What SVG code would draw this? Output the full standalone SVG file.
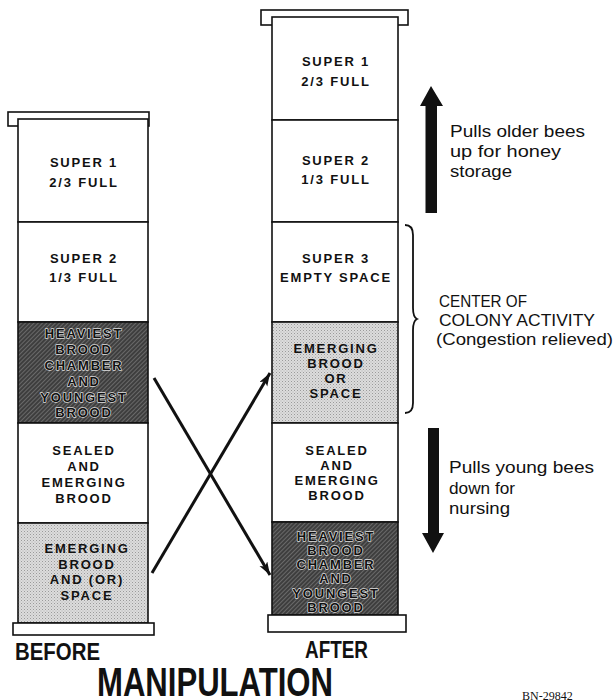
<svg xmlns="http://www.w3.org/2000/svg" width="614" height="700" viewBox="0 0 614 700">
<defs>
<style>
.box{fill:#fff;stroke:#111;stroke-width:1.6}
.dark{fill:url(#hatch);stroke:#111;stroke-width:1.6}
.light{fill:url(#stipple);stroke:#111;stroke-width:1.6}
.lbl{font-family:"Liberation Sans",Arial,sans-serif;font-weight:bold;font-size:13px;letter-spacing:1.8px;text-anchor:middle;fill:#111}
.halo{stroke:#ddd;stroke-width:1.4px;paint-order:stroke;stroke-linejoin:round}
.side{font-family:"Liberation Sans",Arial,sans-serif;font-size:17px;fill:#111}
.cap{font-family:"Liberation Sans",Arial,sans-serif;font-weight:bold;fill:#111}
.conn{stroke:#111;stroke-width:3;fill:none}
</style>
<pattern id="hatch" patternUnits="userSpaceOnUse" width="3" height="3" patternTransform="rotate(45)">
<rect width="3" height="3" fill="#3e3e3e"/>
<line x1="0" y1="0" x2="0" y2="3" stroke="#8c8c8c" stroke-width="1.1"/>
</pattern>
<pattern id="stipple" patternUnits="userSpaceOnUse" width="3" height="3">
<rect width="3" height="3" fill="#dcdcdc"/>
<rect x="0" y="0" width="1" height="1" fill="#9a9a9a"/>
<rect x="1.5" y="1.5" width="1" height="1" fill="#b0b0b0"/>
</pattern>
<marker id="ah" markerUnits="userSpaceOnUse" markerWidth="14" markerHeight="10" refX="13" refY="4.5" orient="auto">
<path d="M0,0 L13,4.5 L0,9 L3,4.5 z" fill="#111"/>
</marker>
</defs>

<!-- BEFORE hive -->
<g id="before-hive">
<rect class="box" x="8" y="112" width="141" height="14"/>
<g id="b-super1"><rect class="box" x="18" y="119" width="130" height="103"/>
<text class="lbl" x="84" y="167">SUPER 1</text><text class="lbl" x="84" y="187">2/3 FULL</text></g>
<g id="b-super2"><rect class="box" x="18" y="222" width="130" height="100"/>
<text class="lbl" x="84" y="263">SUPER 2</text><text class="lbl" x="84" y="282">1/3 FULL</text></g>
<g id="b-heaviest"><rect class="dark" x="18" y="322" width="130" height="101"/>
<g class="lbl halo">
<text x="84" y="338">HEAVIEST</text><text x="84" y="354">BROOD</text><text x="84" y="370">CHAMBER</text><text x="84" y="386">AND</text><text x="84" y="402">YOUNGEST</text><text x="84" y="417">BROOD</text></g></g>
<g id="b-sealed"><rect class="box" x="18" y="423" width="130" height="100"/>
<text class="lbl" x="84" y="455">SEALED</text><text class="lbl" x="84" y="471">AND</text><text class="lbl" x="84" y="487">EMERGING</text><text class="lbl" x="84" y="503">BROOD</text></g>
<g id="b-emerging"><rect class="light" x="18" y="523" width="130" height="100"/>
<text class="lbl" x="87" y="553">EMERGING</text><text class="lbl" x="87" y="569">BROOD</text><text class="lbl" x="87" y="584">AND (OR)</text><text class="lbl" x="87" y="600">SPACE</text></g>
<rect class="box" x="13" y="623" width="141" height="12"/>
</g>

<!-- AFTER hive -->
<g id="after-hive">
<rect class="box" x="261" y="10" width="147" height="15"/>
<g id="a-super1"><rect class="box" x="272" y="17" width="126" height="103"/>
<text class="lbl" x="336" y="66">SUPER 1</text><text class="lbl" x="336" y="86">2/3 FULL</text></g>
<g id="a-super2"><rect class="box" x="272" y="120" width="126" height="102"/>
<text class="lbl" x="336" y="165">SUPER 2</text><text class="lbl" x="336" y="184">1/3 FULL</text></g>
<g id="a-super3"><rect class="box" x="272" y="222" width="126" height="100"/>
<text class="lbl" x="336" y="263">SUPER 3</text><text class="lbl" x="336" y="282">EMPTY SPACE</text></g>
<g id="a-emerging"><rect class="light" x="272" y="322" width="126" height="101"/>
<text class="lbl" x="336" y="353">EMERGING</text><text class="lbl" x="336" y="368">BROOD</text><text class="lbl" x="336" y="383">OR</text><text class="lbl" x="336" y="398">SPACE</text></g>
<g id="a-sealed"><rect class="box" x="272" y="423" width="126" height="99"/>
<text class="lbl" x="337" y="455">SEALED</text><text class="lbl" x="337" y="470">AND</text><text class="lbl" x="337" y="485">EMERGING</text><text class="lbl" x="337" y="500">BROOD</text></g>
<g id="a-heaviest"><rect class="dark" x="272" y="522" width="126" height="93"/>
<g class="lbl halo">
<text x="336" y="541">HEAVIEST</text><text x="336" y="555">BROOD</text><text x="336" y="569">CHAMBER</text><text x="336" y="583">AND</text><text x="336" y="598">YOUNGEST</text><text x="336" y="612">BROOD</text></g></g>
<rect class="box" x="268" y="615" width="138" height="17"/>
</g>

<!-- connectors -->
<g id="connectors">
<line class="conn" x1="154" y1="378" x2="270" y2="575" marker-end="url(#ah)"/>
<line class="conn" x1="152" y1="573" x2="270" y2="373" marker-end="url(#ah)"/>
</g>

<!-- up arrow -->
<g id="up-arrow">
<polygon points="431,86 443,106 437,106 437,213 425.5,213 425.5,106 420,106" fill="#111"/>
<text class="side" x="450" y="137" textLength="135" lengthAdjust="spacingAndGlyphs">Pulls older bees</text>
<text class="side" x="450" y="157" textLength="111" lengthAdjust="spacingAndGlyphs">up for honey</text>
<text class="side" x="450" y="177" textLength="62" lengthAdjust="spacingAndGlyphs">storage</text>
</g>

<!-- brace -->
<g id="center-activity">
<path d="M405,225 Q413,225 413,235 L413,308 Q413,317 417,319 Q413,321 413,330 L413,403 Q413,413 405,413" fill="none" stroke="#111" stroke-width="1.8"/>
<text class="side" x="439" y="307" textLength="88" lengthAdjust="spacingAndGlyphs">CENTER OF</text>
<text class="side" x="439" y="326" textLength="156" lengthAdjust="spacingAndGlyphs">COLONY ACTIVITY</text>
<text class="side" x="436" y="345" textLength="177" lengthAdjust="spacingAndGlyphs">(Congestion relieved)</text>
</g>

<!-- down arrow -->
<g id="down-arrow">
<polygon points="428,428 439,428 439,533 444,533 433,553 422,533 428,533" fill="#111"/>
<text class="side" x="449" y="473" textLength="145" lengthAdjust="spacingAndGlyphs">Pulls young bees</text>
<text class="side" x="449" y="494" textLength="66" lengthAdjust="spacingAndGlyphs">down for</text>
<text class="side" x="449" y="514" textLength="61" lengthAdjust="spacingAndGlyphs">nursing</text>
</g>

<!-- captions -->
<text class="cap" x="15" y="660" font-size="24" textLength="85" lengthAdjust="spacingAndGlyphs">BEFORE</text>
<text class="cap" x="305" y="658" font-size="24" textLength="63" lengthAdjust="spacingAndGlyphs">AFTER</text>
<text class="cap" x="97" y="696" font-size="40" textLength="236" lengthAdjust="spacingAndGlyphs">MANIPULATION</text>
<text x="522" y="700" font-family="'Liberation Serif',serif" font-size="12" fill="#111">BN-29842</text>
</svg>
